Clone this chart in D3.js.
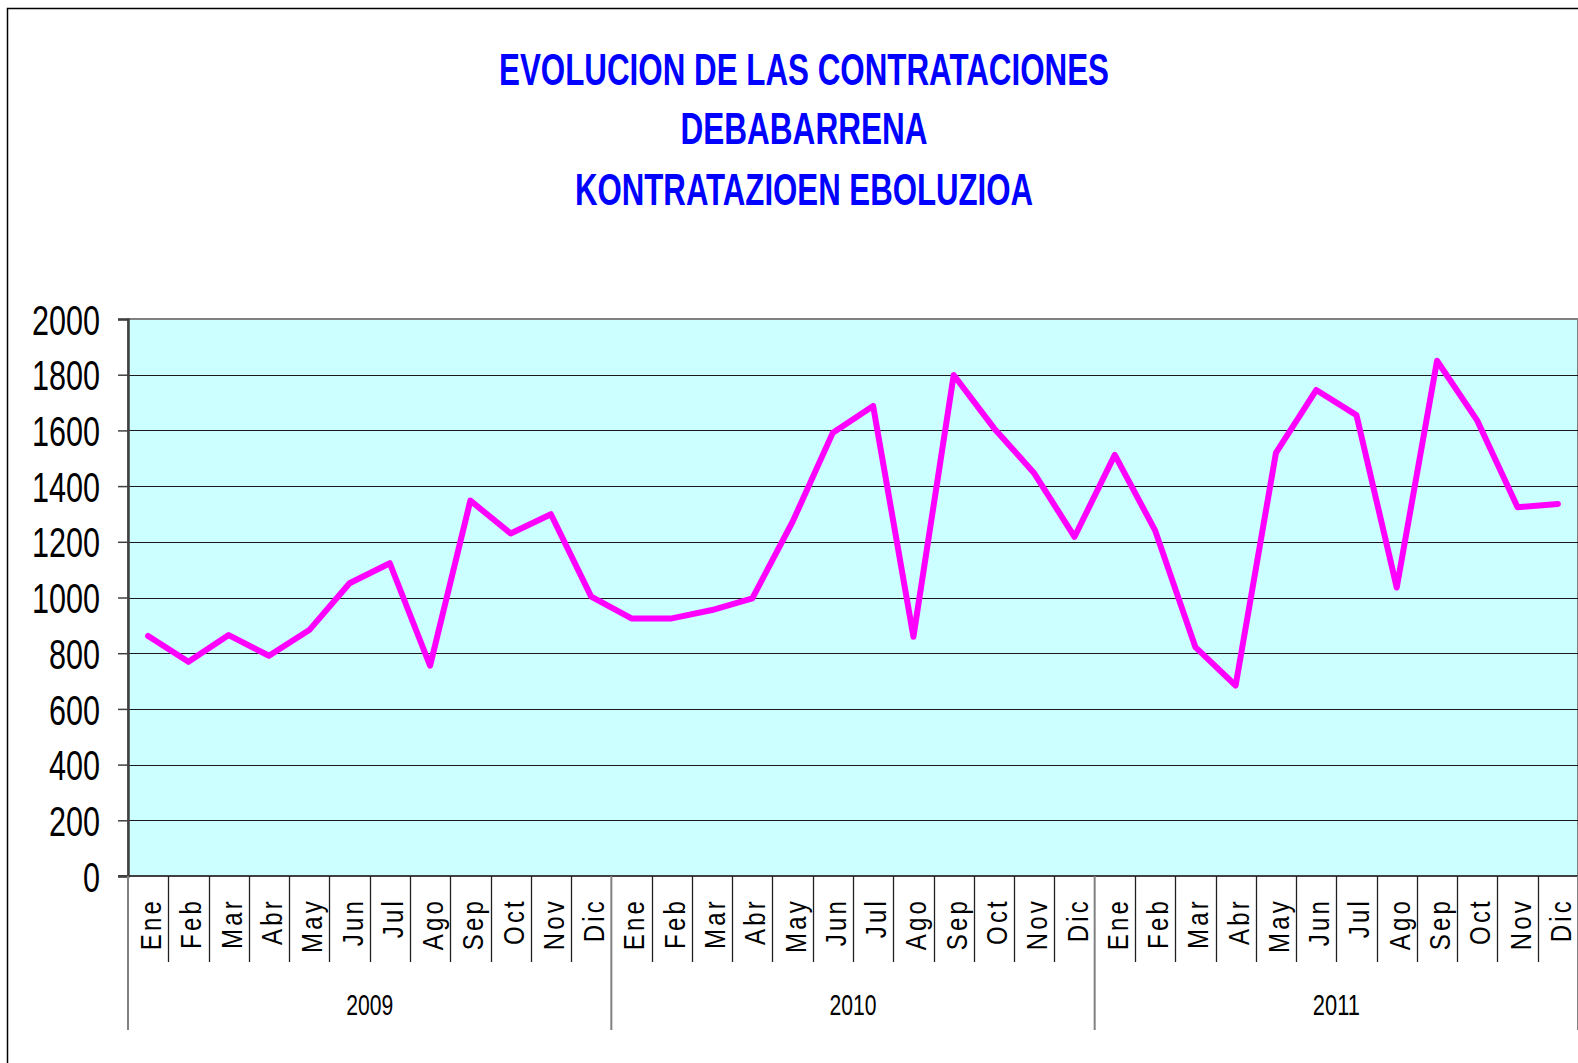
<!DOCTYPE html>
<html>
<head>
<meta charset="utf-8">
<script src="https://cdn.jsdelivr.net/npm/d3@7"></script>
<style>
  html, body { margin: 0; padding: 0; background: #ffffff; }
  svg { display: block; }
  text { font-family: "Liberation Sans", Arial, sans-serif; }
</style>
</head>
<body>
<script>
// ---------- DATA ----------
const titleLines = ["EVOLUCION DE LAS CONTRATACIONES", "DEBABARRENA", "KONTRATAZIOEN EBOLUZIOA"];
const months = ["Ene","Feb","Mar","Abr","May","Jun","Jul","Ago","Sep","Oct","Nov","Dic"];
const years = ["2009","2010","2011"];
const values2009 = [862, 769, 865, 791, 883, 1051, 1123, 755, 1348, 1230, 1299, 1003];
const values2010 = [925, 925, 955, 997, 1272, 1592, 1688, 859, 1799, 1608, 1446, 1218];
const values2011 = [1512, 1241, 822, 684, 1519, 1745, 1655, 1036, 1850, 1635, 1324, 1336];
const yTicks = [0, 200, 400, 600, 800, 1000, 1200, 1400, 1600, 1800, 2000];

// ---------- BUILD ----------
const W = 1578, H = 1063;
const plot = { left: 128, right: 1578, top: 319, bottom: 876 };

const seriesByYear = [values2009, values2010, values2011];
const records = [];
years.forEach((yr, yi) => {
  months.forEach((m, mi) => {
    records.push({ key: yr + "-" + m, year: yr, month: m, value: seriesByYear[yi][mi] });
  });
});

const svg = d3.select("body").append("svg").attr("width", W).attr("height", H);

// outer chart border (right/bottom fall outside the picture)
svg.append("rect")
  .attr("x", 7.5).attr("y", 8.5).attr("width", 1800).attr("height", 1200)
  .attr("fill", "#ffffff").attr("stroke", "#000000").attr("stroke-width", 1.5);

const x = d3.scaleBand().domain(records.map(d => d.key)).range([plot.left, plot.right]).padding(0);
const y = d3.scaleLinear().domain([0, 2000]).range([plot.bottom, plot.top]);

// plot background
svg.append("rect")
  .attr("x", plot.left).attr("y", plot.top)
  .attr("width", plot.right - plot.left).attr("height", plot.bottom - plot.top)
  .attr("fill", "#CCFFFF").attr("stroke", "#808080").attr("stroke-width", 2);

// gridlines
svg.append("g")
  .selectAll("line")
  .data(yTicks.filter(t => t > 0 && t < 2000))
  .join("line")
  .attr("x1", plot.left).attr("x2", plot.right)
  .attr("y1", d => Math.round(y(d)) + 0.5).attr("y2", d => Math.round(y(d)) + 0.5)
  .attr("stroke", "#1a1a1a").attr("stroke-width", 1.2);

// y axis
const yAxis = svg.append("g")
  .attr("transform", `translate(${plot.left},0)`)
  .call(d3.axisLeft(y).tickValues(yTicks).tickSize(10).tickPadding(18).tickFormat(d3.format("d")));
yAxis.select(".domain").attr("stroke", "#404040").attr("stroke-width", 2.5);
yAxis.selectAll(".tick line").attr("stroke", "#404040").attr("stroke-width", 1.5);
yAxis.selectAll(".tick text")
  .attr("font-size", 42)
  .attr("fill", "#000")
  .attr("dy", "0.36em")
  .attr("textLength", d => String(d).length * 17)
  .attr("lengthAdjust", "spacingAndGlyphs");

// bottom axis line
svg.append("line")
  .attr("x1", plot.left - 10).attr("x2", plot.right)
  .attr("y1", plot.bottom).attr("y2", plot.bottom)
  .attr("stroke", "#404040").attr("stroke-width", 2);

// month separators
const bw = x.bandwidth();
svg.append("g").selectAll("line")
  .data(records.filter((d, i) => i % 12 !== 0))
  .join("line")
  .attr("x1", d => Math.round(x(d.key)) + 0.5).attr("x2", d => Math.round(x(d.key)) + 0.5)
  .attr("y1", plot.bottom).attr("y2", 962)
  .attr("stroke", "#202020").attr("stroke-width", 1.3);

// year separators
const yearEdges = years.map((yr, yi) => x(records[yi * 12].key)).concat([plot.right]);
svg.append("g").selectAll("line")
  .data(yearEdges)
  .join("line")
  .attr("x1", d => d).attr("x2", d => d)
  .attr("y1", plot.bottom).attr("y2", 1030)
  .attr("stroke", "#808080").attr("stroke-width", 2);

// month labels (rotated)
svg.append("g").selectAll("text")
  .data(records)
  .join("text")
  .attr("transform", d => `translate(${x(d.key) + bw / 2 + 13},898) rotate(-90) scale(0.8,1)`)
  .attr("text-anchor", "end")
  .attr("font-size", 30)
  .attr("letter-spacing", 4)
  .attr("fill", "#000")
  .text(d => d.month);

// year labels
svg.append("g").selectAll("text")
  .data(years)
  .join("text")
  .attr("x", (d, i) => (yearEdges[i] + yearEdges[i + 1]) / 2)
  .attr("y", 1015)
  .attr("text-anchor", "middle")
  .attr("font-size", 30)
  .attr("textLength", 47)
  .attr("lengthAdjust", "spacingAndGlyphs")
  .attr("fill", "#000")
  .text(d => d);

// line series
const line = d3.line()
  .x(d => x(d.key) + bw / 2)
  .y(d => y(d.value));
svg.append("path")
  .datum(records)
  .attr("d", line)
  .attr("fill", "none")
  .attr("stroke", "#FF00FF")
  .attr("stroke-width", 6)
  .attr("stroke-linejoin", "round")
  .attr("stroke-linecap", "round");

// title
const titleBaselines = [85, 144, 205];
const titleWidths = [610, 247, 458];
svg.append("g").selectAll("text")
  .data(titleLines)
  .join("text")
  .attr("x", 804)
  .attr("y", (d, i) => titleBaselines[i])
  .attr("text-anchor", "middle")
  .attr("font-size", 45)
  .attr("font-weight", "bold")
  .attr("fill", "#0000FF")
  .attr("textLength", (d, i) => titleWidths[i])
  .attr("lengthAdjust", "spacingAndGlyphs")
  .text(d => d);
</script>
</body>
</html>
